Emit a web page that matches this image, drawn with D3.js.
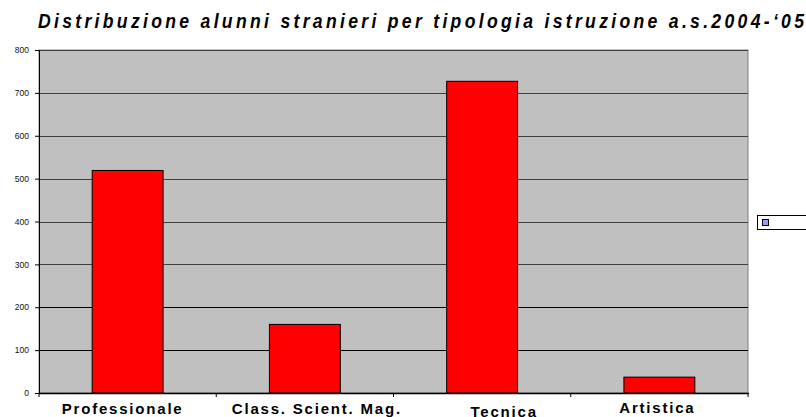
<!DOCTYPE html>
<html>
<head>
<meta charset="utf-8">
<script src="https://cdn.jsdelivr.net/npm/d3@7"></script>
<style>
  body { margin: 0; background: #fff; }
  svg { display: block; font-family: "Liberation Sans", Arial, sans-serif; }
</style>
</head>
<body>
<div id="chart"></div>
<script>
// data
var categories = ["Professionale", "Class. Scient. Mag.", "Tecnica", "Artistica"];
var values = [519, 160, 727, 37];
var yTicks = [0, 100, 200, 300, 400, 500, 600, 700, 800];
var title = "Distribuzione alunni stranieri per tipologia istruzione a.s.2004-\u201805";

var width = 806,
	height = 417,
	plotLeft = 39,
	plotRight = 748,
	plotTop = 50,
	plotBottom = 393;

var svg = d3.select("#chart").append("svg")
	.attr("width", width)
	.attr("height", height);

var x = d3.scaleBand()
	.domain(categories)
	.range([plotLeft, plotRight])
	.paddingInner(0.6)
	.paddingOuter(0.3);

var y = d3.scaleLinear()
	.domain([0, 800])
	.range([plotBottom, plotTop]);

// plot background
svg.append("rect")
	.attr("x", plotLeft)
	.attr("y", plotTop)
	.attr("width", plotRight - plotLeft)
	.attr("height", plotBottom - plotTop)
	.style("fill", "#c0c0c0")
	.style("stroke", "#808080");

// gridlines
svg.append("g").selectAll("line")
	.data(yTicks.slice(1))
	.enter()
	.append("line")
	.attr("x1", plotLeft)
	.attr("x2", plotRight)
	.attr("y1", function(d) { return Math.round(y(d)) + 0.5; })
	.attr("y2", function(d) { return Math.round(y(d)) + 0.5; })
	.style("stroke", function(d) { return d > 200 ? "#404040" : "#000"; })
	.style("stroke-width", 1);

// bars
svg.append("g").selectAll("rect")
	.data(values)
	.enter()
	.append("rect")
	.attr("x", function(d, i) { return x(categories[i]); })
	.attr("y", function(d) { return y(d); })
	.attr("width", x.bandwidth())
	.attr("height", function(d) { return plotBottom - y(d); })
	.style("fill", "#ff0000")
	.style("stroke", "#000")
	.style("stroke-width", 1);

// y axis
var yAxis = svg.append("g")
	.attr("transform", "translate(" + plotLeft + ",0)")
	.call(d3.axisLeft(y).tickValues(yTicks).tickSize(4).tickPadding(6));
yAxis.selectAll("text")
	.style("font-size", "8.5px")
	.style("fill", "#111")
	.style("font-family", "Liberation Sans, Arial, sans-serif");
yAxis.selectAll("path, line").style("stroke", "#000");

// x axis line and ticks between categories
var xLine = svg.append("g");
xLine.append("line")
	.attr("x1", plotLeft)
	.attr("x2", plotRight + 1)
	.attr("y1", plotBottom + 0.5)
	.attr("y2", plotBottom + 0.5)
	.style("stroke", "#000")
	.style("stroke-width", 1.5);
xLine.selectAll(".xtick")
	.data(d3.range(categories.length + 1))
	.enter()
	.append("line")
	.attr("x1", function(d) { return plotLeft + d * x.step(); })
	.attr("x2", function(d) { return plotLeft + d * x.step(); })
	.attr("y1", plotBottom)
	.attr("y2", plotBottom + 4)
	.style("stroke", "#000");

// category labels, nudged like the original
var labelDx = [-5, 12, 22, -2],
	labelDy = [0, 0, 3, -1];
svg.append("g").selectAll("text")
	.data(categories)
	.enter()
	.append("text")
	.attr("x", function(d, i) { return x(d) + x.bandwidth() / 2 + labelDx[i]; })
	.attr("y", function(d, i) { return 414 + labelDy[i]; })
	.text(function(d) { return d; })
	.style("text-anchor", "middle")
	.style("font-size", "15px")
	.style("font-weight", "bold")
	.style("letter-spacing", "1.8px")
	.style("fill", "#000");

// title: tall, slightly condensed glyphs like the original
svg.append("text")
	.attr("transform", "translate(38,28) scale(0.88,1)")
	.attr("textLength", 766 / 0.88)
	.attr("lengthAdjust", "spacing")
	.text(title)
	.style("font-size", "20px")
	.style("font-weight", "bold")
	.style("font-style", "italic")
	.style("fill", "#000");

// empty legend
var legend = svg.append("g");
legend.append("rect")
	.attr("x", 757.5)
	.attr("y", 215.5)
	.attr("width", 60)
	.attr("height", 14)
	.style("fill", "#fff")
	.style("stroke", "#000");
legend.append("rect")
	.attr("x", 762.5)
	.attr("y", 219.5)
	.attr("width", 6)
	.attr("height", 6)
	.style("fill", "#9999ff")
	.style("stroke", "#000");
</script>
</body>
</html>
